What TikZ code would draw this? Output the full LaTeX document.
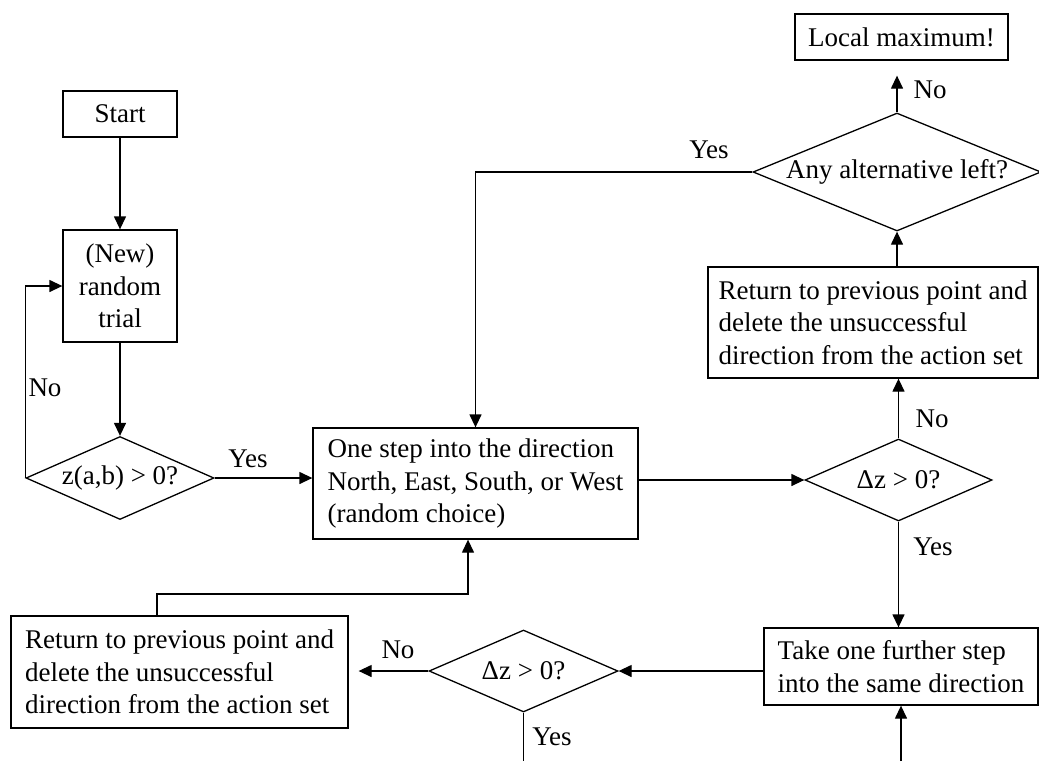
\documentclass[tikz,border=0pt]{standalone}
\usepackage{fontspec}
\setmainfont{Liberation Serif}
\usetikzlibrary{shapes.geometric,arrows.meta}
\begin{document}
\begin{tikzpicture}[x=1pt,y=-1pt,
  every node/.style={font=\fontsize{27}{32.5}\selectfont},
  box/.style={draw, line width=1.3pt, inner sep=0pt, align=center},
  lbox/.style={draw, line width=1.3pt, inner sep=0pt, align=left},
  dec/.style={draw, diamond, line width=1.3pt, inner sep=0pt},
  lbl/.style={inner sep=0pt},
  conn/.style={line width=1.3pt, -{Triangle[length=13pt,width=12pt]}},
  plain/.style={line width=1.3pt}]
\useasboundingbox (0,0) rectangle (1039,761);

\node[box, minimum width=114pt, minimum height=46pt] (start) at (120,114) {Start};
\node[box, minimum width=114pt, minimum height=112pt] (trial) at (120,286) {(New)\\random\\trial};
\node[dec, minimum width=188pt, minimum height=83pt, shape aspect=2.27] (d1) at (120,478) {z(a,b) > 0?};
\node[lbox, minimum width=325pt, minimum height=111pt] (main) at (475.5,483.5) {One step into the direction\\North, East, South, or West\\(random choice)};
\node[dec, minimum width=187pt, minimum height=82pt, shape aspect=2.3] (d2) at (898.5,480) {Δz > 0?};
\node[lbox, minimum width=274pt, minimum height=77pt] (take) at (901,666.5) {Take one further step\\into the same direction};
\node[lbox, minimum width=330pt, minimum height=111pt] (ret2) at (873,322.5) {Return to previous point and\\delete the unsuccessful\\direction from the action set};
\node[dec, minimum width=288pt, minimum height=118pt, shape aspect=2.44] (d3) at (897,172) {Any alternative left?};
\node[box, minimum width=213pt, minimum height=46pt] (locmax) at (901.5,37) {Local maximum!};
\node[lbox, minimum width=337pt, minimum height=112pt] (ret1) at (179.5,672) {Return to previous point and\\delete the unsuccessful\\direction from the action set};
\node[dec, minimum width=189pt, minimum height=82pt, shape aspect=2.3] (d4) at (523.5,671) {Δz > 0?};

\node[lbl] (lno1) at (45,388) {No};
\node[lbl] (lyes1) at (248,459) {Yes};
\node[lbl] (lno2) at (932,419) {No};
\node[lbl] (lyes2) at (933,547) {Yes};
\node[lbl] (lno3) at (930,90) {No};
\node[lbl] (lyes3) at (709,150) {Yes};
\node[lbl] (lno4) at (398,650) {No};
\node[lbl] (lyes4) at (552,737) {Yes};

\draw[conn] (start.south) -- (start.south |- trial.north);
\draw[conn] (trial.south) -- (trial.south |- d1.north);
\draw[conn] (d1.west) |- (trial.west);
\draw[conn] (d1.east) -- (d1.east -| main.west);
\draw[conn] (main.east |- d2.west) -- (d2.west);
\draw[conn] (d2.north) -- (d2.north |- ret2.south);
\draw[conn] (d2.south) -- (d2.south |- take.north);
\draw[conn] (ret2.north -| d3.south) -- (d3.south);
\draw[conn, shorten >=15pt] (d3.north) -- (d3.north |- locmax.south);
\draw[conn] (d3.west) -| (main.north);
\draw[conn] (take.west |- d4.east) -- (d4.east);
\draw[conn, shorten >=10pt] (d4.west) -- (d4.west -| ret1.east);
\coordinate (bot1) at (523.5,761);
\draw[plain] (d4.south) -- (bot1);
\coordinate (bot2) at (901,761);
\draw[conn] (bot2) -- (bot2 |- take.south);
\coordinate (jl) at (157,594);
\coordinate (jr) at (468,594);
\draw[conn] (ret1.north -| jl) -- (jl) -- (jr) -- (jr |- main.south);
\end{tikzpicture}
\end{document}
